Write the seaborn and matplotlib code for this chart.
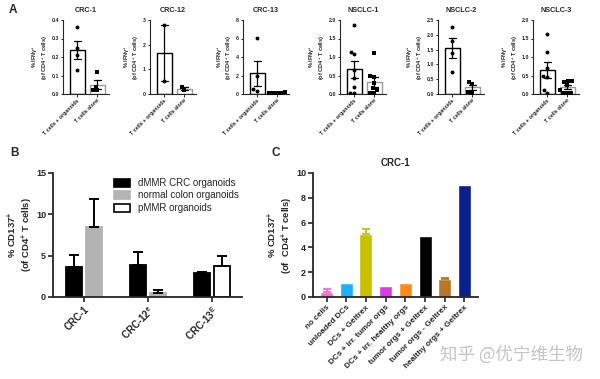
import numpy as np
import pandas as pd
import matplotlib
matplotlib.use('Agg')
import matplotlib.pyplot as plt
import seaborn as sns
from matplotlib.patches import Patch

sns.set_theme(style='ticks')
plt.rcParams['font.family'] = ['Liberation Sans', 'DejaVu Sans']
plt.rcParams['font.weight'] = 'bold'
plt.rcParams['axes.labelweight'] = 'bold'
plt.rcParams['axes.titleweight'] = 'bold'
plt.rcParams['mathtext.fontset'] = 'custom'
plt.rcParams['mathtext.rm'] = 'Liberation Sans:bold'
plt.rcParams['mathtext.bf'] = 'Liberation Sans:bold'
plt.rcParams['mathtext.it'] = 'Liberation Sans:bold'
plt.rcParams['mathtext.default'] = 'bf'

# ---------------- Panel A data ----------------
a_titles = ['CRC-1', 'CRC-12', 'CRC-13', 'NSCLC-1', 'NSCLC-2', 'NSCLC-3']
a_xlabels = ['T cells + organoids', 'T cells alone']
crc1_org = [0.36, 0.25, 0.21, 0.13]
crc1_alone = [0.12, 0.04, 0.02, 0.02]
crc12_org = [2.78, 0.52]
crc12_alone = [0.28, 0.15]
crc13_org = [6.1, 2.0, 0.5, 0.3]
crc13_alone = [0.2, 0.15, 0.1, 0.1, 0.15]
nsclc1_org = [1.87, 1.13, 1.07, 0.65, 0.42, 0.2, 0.02, 0.02]
nsclc1_alone = [1.1, 0.48, 0.45, 0.3, 0.15, 0.1, 0.02, 0.02]
nsclc2_org = [2.27, 1.8, 1.4, 0.73]
nsclc2_alone = [0.42, 0.35, 0.08, 0.03]
nsclc3_org = [1.62, 1.13, 0.7, 0.5, 0.45, 0.1, 0.02]
nsclc3_alone = [0.35, 0.33, 0.35, 0.25, 0.1, 0.02, 0.02, 0.02]
a_org = [crc1_org, crc12_org, crc13_org, nsclc1_org, nsclc2_org, nsclc3_org]
a_alone = [crc1_alone, crc12_alone, crc13_alone, nsclc1_alone, nsclc2_alone, nsclc3_alone]
a_yticks = [[0.0, 0.1, 0.2, 0.3, 0.4], [0, 1, 2, 3], [0, 2, 4, 6, 8],
            [0.0, 0.5, 1.0, 1.5, 2.0], [0.0, 0.5, 1.0, 1.5, 2.0, 2.5],
            [0.0, 0.5, 1.0, 1.5, 2.0]]
a_ticklabels = [['0.0', '0.1', '0.2', '0.3', '0.4'], ['0', '1', '2', '3'],
                ['0', '2', '4', '6', '8'],
                ['0.0', '0.5', '1.0', '1.5', '2.0'],
                ['0.0', '0.5', '1.0', '1.5', '2.0', '2.5'],
                ['0.0', '0.5', '1.0', '1.5', '2.0']]

# ---------------- Panel B data ----------------
b_groups = ['CRC-1', 'CRC-12$^{e}$', 'CRC-13$^{E}$']
b_group = ['CRC-1', 'CRC-1', 'CRC-12$^{e}$', 'CRC-12$^{e}$', 'CRC-13$^{E}$', 'CRC-13$^{E}$']
b_slot = ['L', 'R', 'L', 'R', 'L', 'R']
b_cond = ['dMMR CRC organoids', 'normal colon organoids', 'dMMR CRC organoids',
          'normal colon organoids', 'dMMR CRC organoids', 'pMMR organoids']
b_mean = [3.6, 8.5, 3.9, 0.5, 2.9, 3.8]
b_err = [1.5, 3.3, 1.5, 0.3, 0.1, 1.2]
b_legend = ['dMMR CRC organoids', 'normal colon organoids', 'pMMR organoids']

# ---------------- Panel C data ----------------
c_cats = ['no cells', 'unloaded DCs', 'DCs + Geltrex', 'DCs + irr. tumor orgs',
          'DCs + irr. healthy orgs', 'tumor orgs + Geltrex', 'tumor orgs - Geltrex',
          'healthy orgs + Geltrex']
c_vals = [0.4, 1.15, 5.05, 0.85, 1.15, 4.9, 1.45, 9.0]
c_err = [0.22, 0, 0.45, 0, 0, 0, 0.1, 0]

W, H = 600, 379
fig = plt.figure(figsize=(6, 3.79), dpi=100)

def px_axes(left, top, right, bottom):
    return fig.add_axes([left / W, 1 - bottom / H, (right - left) / W, (bottom - top) / H])

# ---------------- Panel A ----------------
a_lefts = [63, 150, 243, 340, 438, 533]
for i in range(6):
    ax = px_axes(a_lefts[i], 20, a_lefts[i] + 46, 94)
    df = pd.DataFrame({'cond': [a_xlabels[0]] * len(a_org[i]) + [a_xlabels[1]] * len(a_alone[i]),
                       'val': a_org[i] + a_alone[i]})
    sns.barplot(data=df, x='cond', y='val', order=a_xlabels, errorbar='se',
                capsize=0.35, err_kws={'color': 'black', 'linewidth': 0.9},
                width=0.75, fill=False, color='black', linewidth=1.0, ax=ax)
    for p, ec in zip(list(ax.patches), ['black', '#9a9a9a']):
        p.set_edgecolor(ec)
        p.set_facecolor('white')
    sns.swarmplot(data=df[df.cond == a_xlabels[0]], x='cond', y='val', order=a_xlabels,
                  color='black', size=2.8, marker='o', ax=ax)
    sns.swarmplot(data=df[df.cond == a_xlabels[1]], x='cond', y='val', order=a_xlabels,
                  color='black', size=2.8, marker='s', ax=ax)
    ax.set_xlim(-0.7, 1.6)
    ax.set_ylim(0, a_yticks[i][-1])
    ax.set_yticks(a_yticks[i])
    ax.set_yticklabels(a_ticklabels[i])
    ax.set_xticks([0, 1])
    ax.set_xticklabels(a_xlabels, rotation=45, ha='right', rotation_mode='anchor')
    ax.tick_params(labelsize=3.8, length=1.8, width=0.7, pad=1)
    ax.set_xlabel('')
    ax.set_ylabel('% IFN$\\gamma^{+}$\n(of CD4$^{+}$ T cells)', fontsize=4.1, labelpad=1.5,
                  linespacing=1.0)
    ax.set_title(a_titles[i], fontsize=5.2, pad=6)
    for s in ['top', 'right']:
        ax.spines[s].set_visible(False)
    for s in ['left', 'bottom']:
        ax.spines[s].set_linewidth(0.8)

# ---------------- Panel B ----------------
axB = px_axes(53, 173, 242, 297)
dfB = pd.DataFrame({'group': b_group, 'slot': b_slot, 'cond': b_cond,
                    'mean': b_mean, 'err': b_err})
sns.barplot(data=dfB, x='group', y='mean', hue='slot', order=b_groups,
            hue_order=['L', 'R'], width=0.61, gap=0.18, errorbar=None,
            legend=False, ax=axB)
cond_style = {'dMMR CRC organoids': ('black', 'black'),
              'normal colon organoids': ('#b3b3b3', '#b3b3b3'),
              'pMMR organoids': ('white', 'black')}
bar_containers = list(axB.containers)
for k, slot in enumerate(['L', 'R']):
    for bar, g in zip(bar_containers[k], b_groups):
        row = dfB[(dfB.group == g) & (dfB.slot == slot)].iloc[0]
        fc, ec = cond_style[row.cond]
        bar.set_facecolor(fc)
        bar.set_edgecolor(ec)
        bar.set_linewidth(1.3)
        x = bar.get_x() + bar.get_width() / 2
        axB.errorbar([x], [row['mean']], yerr=[[0], [row['err']]], color='black',
                     capsize=3.8, elinewidth=1.4, capthick=1.4, zorder=1)
axB.set_xlim(-0.48, 2.47)
axB.set_ylim(0, 15)
axB.set_yticks([0, 5, 10, 15])
axB.set_xticks(range(3))
axB.set_xticklabels(b_groups, rotation=45, ha='right', rotation_mode='anchor')
axB.tick_params(axis='y', labelsize=6.5, length=3.5, width=1.2, pad=1.5)
axB.tick_params(axis='x', labelsize=7, length=3.5, width=1.2, pad=1.5)
axB.set_xlabel('')
axB.set_ylabel('% CD137$^{+}$\n(of CD4$^{+}$ T cells)', fontsize=6.8, labelpad=1,
               linespacing=1.05)
for s in ['top', 'right']:
    axB.spines[s].set_visible(False)
for s in ['left', 'bottom']:
    axB.spines[s].set_linewidth(1.3)
handles = [Patch(facecolor=cond_style[c][0], edgecolor=cond_style[c][1], linewidth=1.2)
           for c in b_legend]
axB.legend(handles, b_legend, loc='upper right', bbox_to_anchor=(1.03, 1.03),
           frameon=False, prop={'size': 7, 'weight': 'normal'},
           handlelength=1.7, handleheight=0.9, labelspacing=0.25, handletextpad=0.8)

# ---------------- Panel C ----------------
axC = px_axes(313, 173, 478, 297)
c_colors = ['#ff66d9', '#1eb0ff', '#c8c000', '#e03ae6', '#ff8c1a', '#000000',
            '#b87828', '#0b1f8f']
dfC = pd.DataFrame({'cat': c_cats, 'val': c_vals, 'err': c_err})
sns.barplot(data=dfC, x='cat', y='val', hue='cat', order=c_cats, hue_order=c_cats,
            palette=c_colors, width=0.66, errorbar=None, legend=False,
            saturation=1, ax=axC)
for bar in list(axC.patches):
    x = bar.get_x() + bar.get_width() / 2
    idx = int(round(x))
    if c_err[idx] > 0:
        axC.errorbar([x], [c_vals[idx]], yerr=[[0], [c_err[idx]]],
                     color=c_colors[idx], capsize=3.0, elinewidth=1.3,
                     capthick=1.3, zorder=1)
axC.set_xlim(-0.69, 7.69)
axC.set_ylim(0, 10)
axC.set_yticks([0, 2, 4, 6, 8, 10])
axC.set_xticks(range(8))
axC.set_xticklabels(c_cats, rotation=45, ha='right', rotation_mode='anchor')
axC.tick_params(axis='y', labelsize=6.5, length=3.5, width=1.2, pad=1.5)
axC.tick_params(axis='x', labelsize=5.9, length=3.5, width=1.2, pad=1.5)
axC.set_xlabel('')
axC.set_ylabel('% CD137$^{+}$\n(of  CD4$^{+}$ T cells)', fontsize=6.8, labelpad=1,
               linespacing=1.05)
axC.set_title('CRC-1', fontsize=7, pad=5)
for s in ['top', 'right']:
    axC.spines[s].set_visible(False)
for s in ['left', 'bottom']:
    axC.spines[s].set_linewidth(1.3)

# panel letters
fig.text(9 / W, 1 - 10 / H, 'A', fontsize=8.5, fontweight='bold', va='center')
fig.text(10 / W, 1 - 153 / H, 'B', fontsize=8.5, fontweight='bold', va='center')
fig.text(272 / W, 1 - 153 / H, 'C', fontsize=8.5, fontweight='bold', va='center')

# watermark
fig.text(511 / W, 1 - 355 / H, '知乎 @优宁维生物', fontsize=12.6, color='#c4c4c4',
         ha='center', va='center', fontweight='normal',
         family=['Noto Sans CJK SC', 'DejaVu Sans'])

fig.savefig('out.png', dpi=100)
